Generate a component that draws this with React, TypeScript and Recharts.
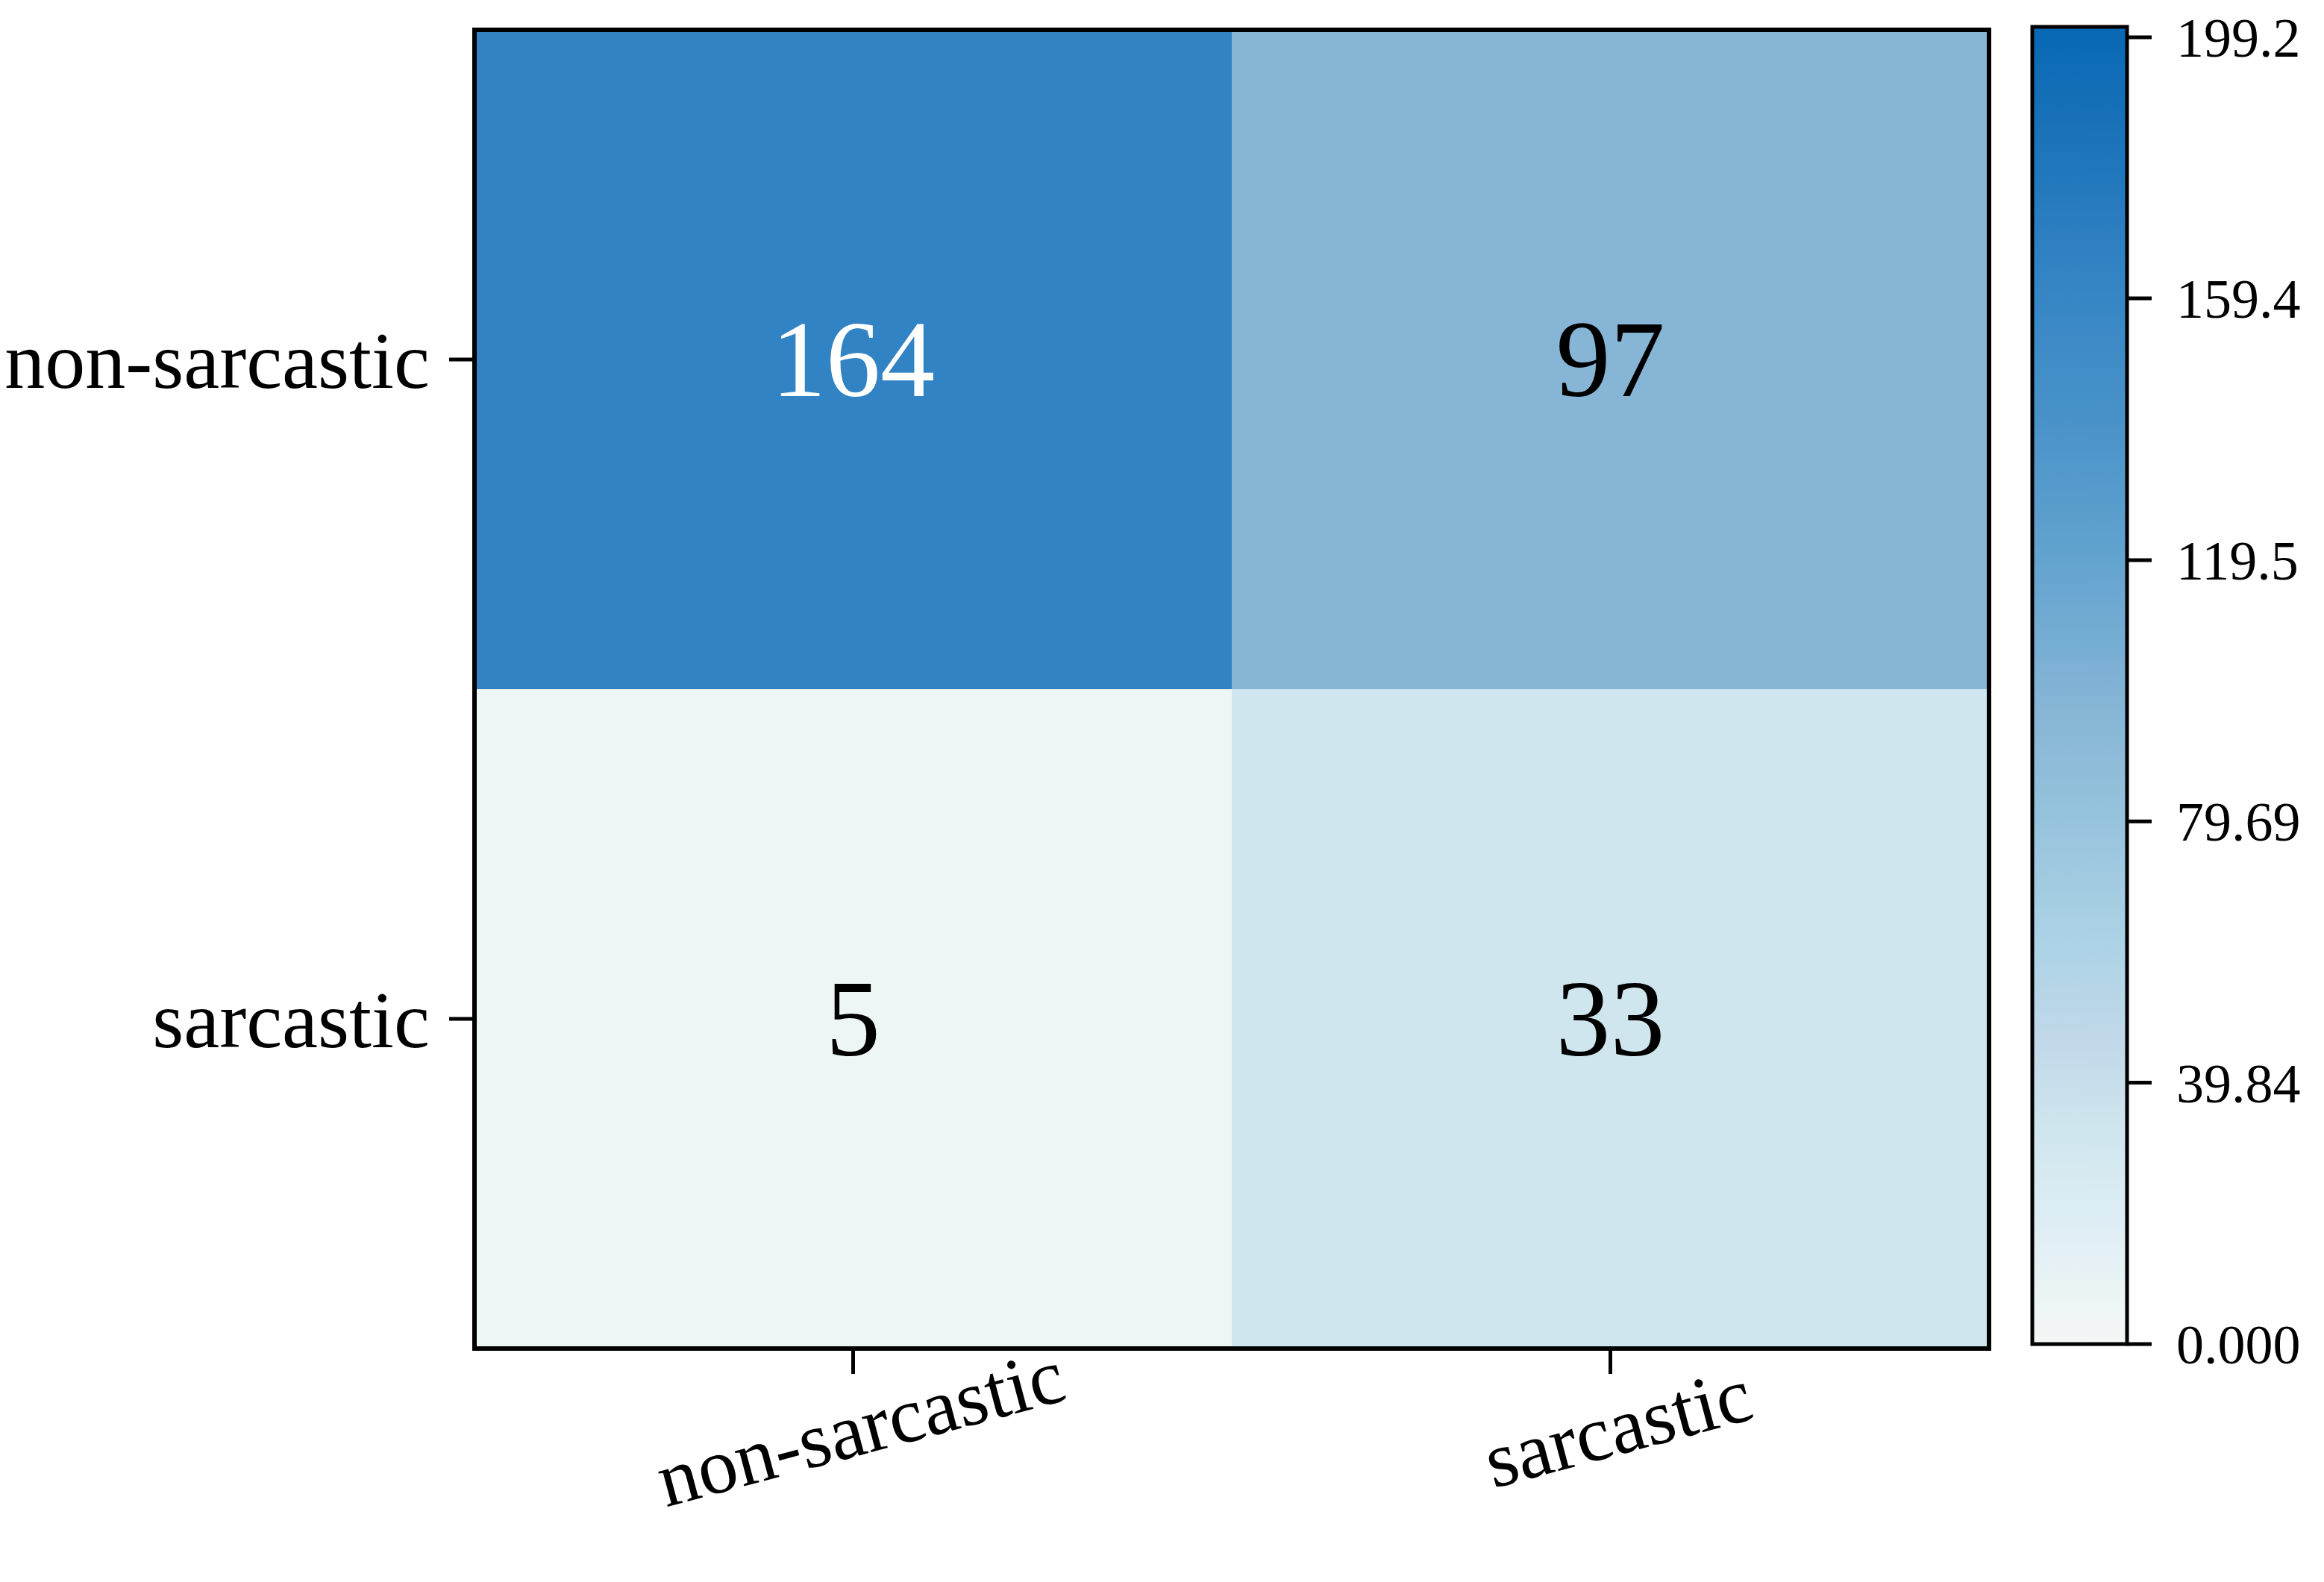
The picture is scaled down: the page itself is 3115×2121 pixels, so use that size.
import React from 'react';
import { BarChart, Bar, XAxis, YAxis, Cell, LabelList } from 'recharts';

const rowLabels = ['non-sarcastic', 'sarcastic'];
const colLabels = ['non-sarcastic', 'sarcastic'];
const countsFirstCol = [164, 5];
const countsSecondCol = [97, 33];

const colorbarTicks = [0, 39.84, 79.69, 119.5, 159.4, 199.2];
const colorbarTickLabels = ['0.000', '39.84', '79.69', '119.5', '159.4', '199.2'];
const colorbarMax = 200.8;

// colormap stops (value -> colour)
const cmapValues = [0, 5, 20, 33, 45, 60, 80, 97, 120, 140, 164, 185, 200.8];
const cmapColors = ['#f5f5f5', '#eef6f5', '#dcecf4', '#cfe6ee', '#c2d9ea', '#aed3e6', '#96c3dc', '#86b5d6', '#62a3cf', '#4a93c9', '#3283c4', '#1a72b8', '#0868b4'];

const FONT = '"Liberation Serif", "Times New Roman", serif';

// plot frame (matches the chart margins below)
const PLOT = { left: 636, top: 40, right: 2666, bottom: 1808 };

function hexToRgb(h: string) {
  const n = parseInt(h.slice(1), 16);
  return [(n >> 16) & 255, (n >> 8) & 255, n & 255];
}

function colorFor(v: number) {
  for (let i = 0; i < cmapValues.length - 1; i++) {
    if (v <= cmapValues[i + 1]) {
      const t = (v - cmapValues[i]) / (cmapValues[i + 1] - cmapValues[i]);
      const a = hexToRgb(cmapColors[i]);
      const b = hexToRgb(cmapColors[i + 1]);
      const c = a.map((x, k) => Math.round(x + (b[k] - x) * t));
      return `rgb(${c[0]},${c[1]},${c[2]})`;
    }
  }
  return cmapColors[cmapColors.length - 1];
}

const data = rowLabels.map((row, i) => ({
  row,
  first: 1,
  second: 1,
  firstCount: countsFirstCol[i],
  secondCount: countsSecondCol[i],
}));

const ColTick = (props: any) => {
  const { x, y, payload } = props;
  const label = colLabels[Math.floor(payload.value)];
  const cx = x + 10;
  const cy = y + 70;
  return (
    <text
      x={cx}
      y={cy}
      textAnchor="middle"
      dominantBaseline="central"
      fontSize={106}
      fontFamily={FONT}
      fill="#000"
      stroke="none"
      transform={`rotate(-15, ${cx}, ${cy})`}
    >
      {label}
    </text>
  );
};

const CellLabel = (props: any) => {
  const { x, y, width, height, value } = props;
  return (
    <text
      x={x + width / 2}
      y={y + height / 2}
      textAnchor="middle"
      dominantBaseline="central"
      fontSize={146}
      fontFamily={FONT}
      fill={value > 120 ? '#fff' : '#000'}
    >
      {value}
    </text>
  );
};

export default function App() {
  return (
    <div style={{ position: 'absolute', left: 0, top: 0, width: 3115, height: 2121, background: '#fff' }}>
      <div style={{ position: 'absolute', left: 0, top: 0 }}>
        <BarChart
          width={2700}
          height={2121}
          data={data}
          layout="vertical"
          barCategoryGap={0}
          barGap={0}
          margin={{ top: PLOT.top, right: 2700 - PLOT.right, left: 0, bottom: 0 }}
        >
          <XAxis
            type="number"
            domain={[0, 2]}
            ticks={[0.5, 1.5]}
            height={2121 - PLOT.bottom}
            tickSize={34}
            tick={<ColTick />}
            stroke="#000"
            strokeWidth={5}
          />
          <YAxis
            type="category"
            dataKey="row"
            width={PLOT.left}
            tickSize={34}
            tickMargin={26}
            stroke="#000"
            strokeWidth={5}
            tick={{ fill: '#000', stroke: 'none', fontSize: 108, fontFamily: FONT }}
          />
          <Bar dataKey="first" stackId="s" isAnimationActive={false}>
            {data.map((d, i) => (
              <Cell key={i} fill={colorFor(d.firstCount)} />
            ))}
            <LabelList dataKey="firstCount" content={<CellLabel />} />
          </Bar>
          <Bar dataKey="second" stackId="s" isAnimationActive={false}>
            {data.map((d, i) => (
              <Cell key={i} fill={colorFor(d.secondCount)} />
            ))}
            <LabelList dataKey="secondCount" content={<CellLabel />} />
          </Bar>
        </BarChart>
      </div>

      {/* frame round the heat map */}
      <div
        style={{
          position: 'absolute',
          boxSizing: 'border-box',
          left: PLOT.left - 3,
          top: PLOT.top - 3,
          width: PLOT.right - PLOT.left + 6,
          height: PLOT.bottom - PLOT.top + 6,
          border: '6px solid #000',
          pointerEvents: 'none',
        }}
      />

      {/* colour bar */}
      <div style={{ position: 'absolute', left: 2700, top: 0 }}>
        <BarChart
          width={415}
          height={2121}
          data={[{ name: 'scale', v: colorbarMax }]}
          barCategoryGap={0}
          margin={{ top: 36, right: 0, left: 24, bottom: 319 }}
        >
          <defs>
            <linearGradient id="cbGrad" x1="0" y1="1" x2="0" y2="0">
              {cmapValues.map((v, i) => (
                <stop key={i} offset={v / colorbarMax} stopColor={cmapColors[i]} />
              ))}
            </linearGradient>
          </defs>
          <XAxis dataKey="name" hide />
          <YAxis
            orientation="right"
            type="number"
            domain={[0, colorbarMax]}
            ticks={colorbarTicks}
            tickFormatter={(_v: number, i: number) => colorbarTickLabels[i]}
            width={264}
            tickSize={33}
            tickMargin={33}
            axisLine={false}
            stroke="#000"
            strokeWidth={5}
            tick={{ fill: '#000', stroke: 'none', fontSize: 74, fontFamily: FONT }}
          />
          <Bar dataKey="v" fill="url(#cbGrad)" stroke="#000" strokeWidth={5} isAnimationActive={false} />
        </BarChart>
      </div>
    </div>
  );
}
